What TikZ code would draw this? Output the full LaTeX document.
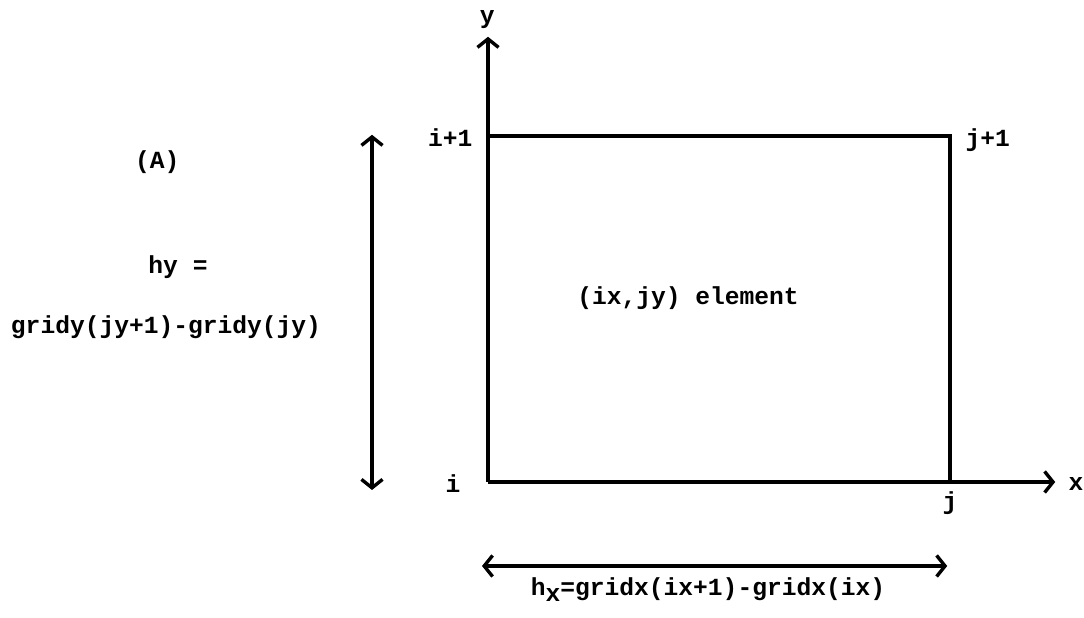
\documentclass[tikz,border=0pt]{standalone}
\usepackage{fontspec}
\setmonofont{Liberation Mono}
\usepackage{tikz}
\usetikzlibrary{arrows.meta}
\tikzset{
  lbl/.style={font=\fontsize{17.5}{20}\selectfont\ttfamily\bfseries,inner sep=1pt},
  axisline/.style={line width=2.4pt},
  dimarrow/.style={line width=2.4pt,{Straight Barb[length=6pt,width=15pt]}-{Straight Barb[length=6pt,width=15pt]}},
  axisarrow/.style={line width=2.4pt,-{Straight Barb[length=6pt,width=15pt]}},
}

\begin{document}
\begin{tikzpicture}

  \useasboundingbox (0,0) rectangle (27.1,15.45);
  % corners of the element
  \coordinate (orig) at (12.20,3.40);
  \coordinate (tl) at (12.20,12.05);
  \coordinate (tr) at (23.75,12.05);
  \coordinate (br) at (23.75,3.40);
  \coordinate (ytip) at (12.20,14.53);
  \coordinate (xtip) at (26.38,3.40);
  % axes
  \draw[axisarrow] (orig) -- (ytip);
  \draw[axisarrow] (orig) -- (xtip);
  \node[lbl] (ylab) at (12.18,14.95) {y};
  \node[lbl] (xlab) at (26.90,3.36) {x};
  % element box
  \draw[axisline] (tl) -- (tr) -- (br);
  \node[lbl,anchor=east] (ip) at (11.85,12.02) {i+1};
  \node[lbl,anchor=west] (jp) at (24.10,11.95) {j+1};
  \node[lbl,anchor=east] (ilab) at (11.55,3.35) {i};
  \node[lbl,anchor=north] (jlab) at (23.75,3.20) {j};
  \node[lbl] (elem) at (17.20,8.00) {(ix,jy) element};
  % hy on the left
  \coordinate (hytop) at (9.30,12.08);
  \coordinate (hybot) at (9.30,3.20);
  \draw[dimarrow] (hybot) -- (hytop);
  \node[lbl] (tag) at (3.93,11.40) {(A)};
  \node[lbl] (hy) at (4.45,8.78) {hy =};
  \node[lbl] (hyval) at (4.15,7.28) {gridy(jy+1)-gridy(jy)};
  % hx below
  \coordinate (hxl) at (12.05,1.30);
  \coordinate (hxr) at (23.68,1.30);
  \draw[dimarrow] (hxl) -- (hxr);
  \node[lbl] (hx) at (17.70,0.70) {h\raisebox{-0.45ex}{x}=gridx(ix+1)-gridx(ix)};

\end{tikzpicture}
\end{document}
